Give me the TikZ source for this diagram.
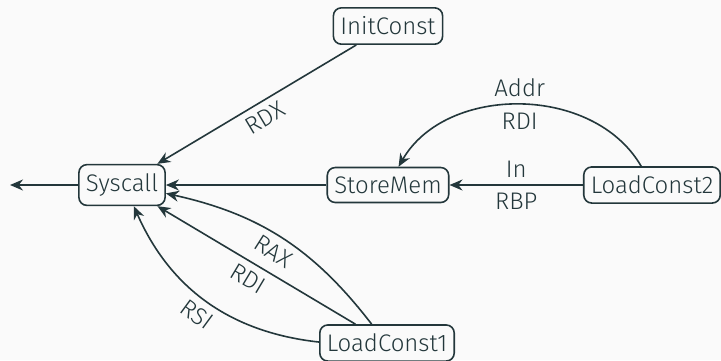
\documentclass[tikz,border=0pt]{standalone}
\usepackage{fontspec}
\setmainfont{Fira Sans Light}
\usetikzlibrary{arrows.meta, positioning}
\definecolor{mDarkTeal}{HTML}{23373B}
\definecolor{mBackground}{HTML}{FAFAFA}
\tikzset{
    % Node styles
    gadget/.style={
        rectangle,
        rounded corners=4pt,
        draw=mDarkTeal,
        thick,
        text=mDarkTeal,
        inner xsep=3.5pt,
        inner ysep=4.5pt,
        font=\fontsize{12}{14}\selectfont
    },
    % Arrow styles
    flow/.style={
        -{Stealth[length=6.5pt,width=5.5pt]},
        thick,
        mDarkTeal
    },
    reglabel/.style={
        text=mDarkTeal,
        inner sep=3.5pt,
        font=\fontsize{12}{14}\selectfont
    }
}

\begin{document}
\begin{tikzpicture}[x=0.5pt, y=-0.5pt]
    % Background
    \fill[mBackground] (0,0) rectangle (721,360);
    \useasboundingbox (0,0) rectangle (721,360);

    % Gadgets
    \node[gadget] (syscall) at (122,185) {Syscall};
    \node[gadget] (initconst) at (388,26) {InitConst};
    \node[gadget] (storemem) at (388,185) {StoreMem};
    \node[gadget] (loadconst2) at (652,185) {LoadConst2};
    \node[gadget] (loadconst1) at (387,343) {LoadConst1};
    \coordinate (out) at (10,185);

    % Edges
    \draw[flow] (syscall) -- (out);
    \draw[flow] (initconst) -- node[reglabel, sloped, below] {RDX} (syscall);
    \draw[flow] (storemem) -- (syscall);
    \draw[flow] (loadconst2) -- node[reglabel, above] {In} node[reglabel, below] {RBP} (storemem);
    \draw[flow] (loadconst2) to[bend right=60] node[reglabel, above] {Addr} node[reglabel, below] {RDI} (storemem);
    \draw[flow] (loadconst1) to[bend right=20] node[reglabel, sloped, below] {RAX} (syscall);
    \draw[flow] (loadconst1) -- node[reglabel, sloped, below] {RDI} (syscall);
    \draw[flow] (loadconst1) to[bend left=30] node[reglabel, sloped, below] {RSI} (syscall);
\end{tikzpicture}
\end{document}
